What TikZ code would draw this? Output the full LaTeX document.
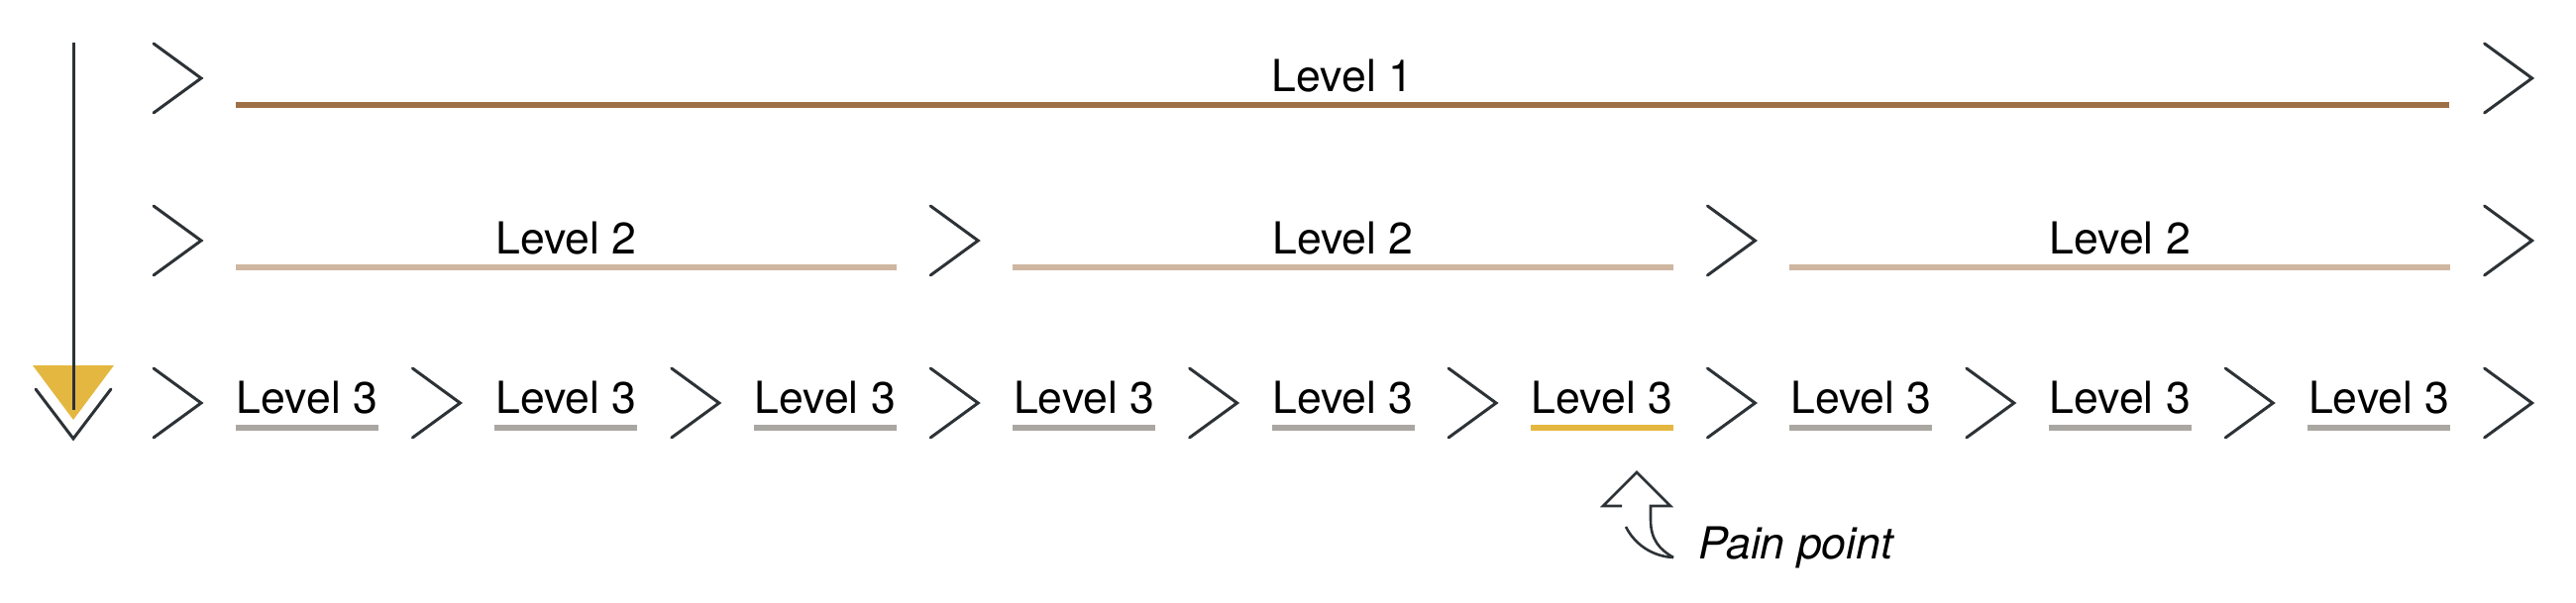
\documentclass[tikz,border=0pt]{standalone}
\usepackage{fontspec}
\setmainfont{TeX Gyre Heros}
\definecolor{dark}{RGB}{45,50,54}
\definecolor{lvone}{RGB}{158,112,70}
\definecolor{lvtwo}{RGB}{206,182,160}
\definecolor{lvthree}{RGB}{170,167,162}
\definecolor{pain}{RGB}{228,183,64}
\begin{document}
\begin{tikzpicture}[x=1pt,y=-1pt,
  chev/.style={draw=dark,line width=3pt,line cap=round,line join=miter},
  bar/.style={line width=5.5pt},
  lbl/.style={anchor=base,inner sep=0pt,font=\fontsize{44.6}{50}\selectfont}]
\useasboundingbox (0,0) rectangle (2600,608);
% time arrow on the left
\fill[pain] (33,369) -- (115,369) -- (74,424) -- cycle;
\coordinate (vtop) at (74,43);
\coordinate (vbot) at (74,414);
\draw[dark,line width=3pt] (vtop) -- (vbot);
\draw[chev] (36,393) -- (74,443) -- (112,393);
% row 1
\foreach \k in {0,9}
  \draw[chev] ({155+261.4*\k},44) -- ++(48,35) -- ++(-48,35);
\coordinate (a1) at (238,106);
\coordinate (b1) at (2472,106);
\draw[bar,lvone] (a1) -- (b1);
\node[lbl] (l1) at (1355,92) {Level 1};
% row 2
\foreach \k in {0,3,6,9}
  \draw[chev] ({155+261.4*\k},208) -- ++(48,35) -- ++(-48,35);
\foreach \j in {0,1,2}{
  \coordinate (a2-\j) at ({155+784.2*\j+83},270);
  \coordinate (b2-\j) at ({155+784.2*\j+522.8+227},270);
  \draw[bar,lvtwo] (a2-\j) -- (b2-\j);
  \node[lbl] (l2-\j) at ({155+784.2*\j+416.4},256) {Level 2};
}
% row 3
\foreach \k in {0,...,9}
  \draw[chev] ({155+261.4*\k},372) -- ++(48,35) -- ++(-48,35);
\foreach \k in {0,...,8}{
  \coordinate (a3-\k) at ({155+261.4*\k+83},432);
  \coordinate (b3-\k) at ({155+261.4*\k+227},432);
  \ifnum\k=5
    \draw[bar,pain] (a3-\k) -- (b3-\k);
  \else
    \draw[bar,lvthree] (a3-\k) -- (b3-\k);
  \fi
  \node[lbl] (l3-\k) at ({155+261.4*\k+155},417) {Level 3};
}
% pain point marker
\draw[dark,line width=2.6pt,line join=miter,line cap=butt]
  (1637,511) -- (1618,511) -- (1652,477) -- (1686,511) -- (1666,511)
  -- (1666,525) .. controls (1666,545) and (1675,555) .. (1689,563);
\draw[dark,line width=2.6pt,line cap=butt]
  (1641,532) .. controls (1650,550) and (1668,562) .. (1689,563);
\node[lbl,anchor=base west] (pp) at (1714,564) {\itshape Pain point};
\end{tikzpicture}
\end{document}
